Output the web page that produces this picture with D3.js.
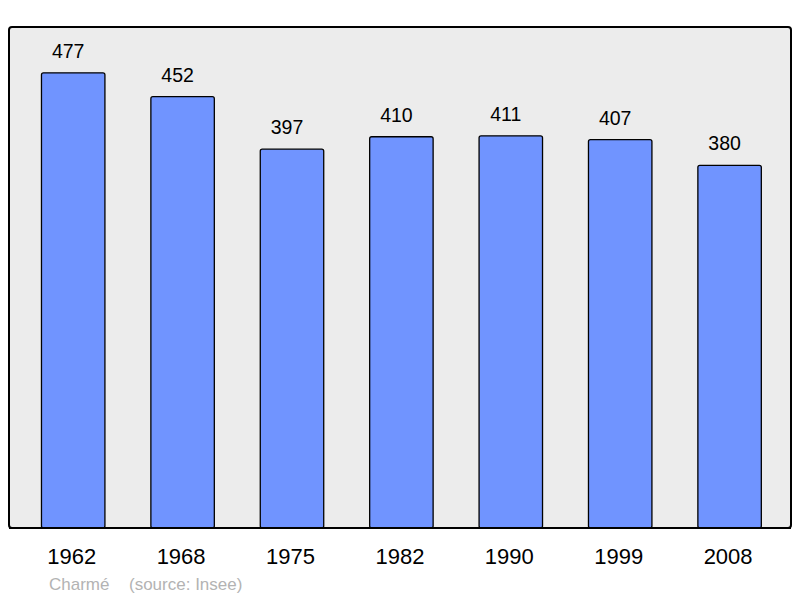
<!DOCTYPE html>
<html>
<head>
<meta charset="utf-8">
<script src="https://cdn.jsdelivr.net/npm/d3@7"></script>
<style>
  body { margin: 0; background: #fff; }
  text { font-family: "Liberation Sans", Arial, sans-serif; }
</style>
</head>
<body>
<div id="chart"></div>
<script>
// population data
const years = ["1962", "1968", "1975", "1982", "1990", "1999", "2008"];
const population = [477, 452, 397, 410, 411, 407, 380];
const commune = "Charmé";
const source = "(source: Insee)";

let width = 800;
let height = 598;
let panelLeft = 9, panelRight = 791, panelTop = 27, panelBottom = 528;

let svg = d3.select("#chart").append("svg")
  .attr("width", width)
  .attr("height", height);

let xScale = d3.scaleBand()
  .domain(years)
  .range([18.5, 784.3])
  .paddingInner(0.42)
  .paddingOuter(0.21);

let yScale = d3.scaleLinear()
  .domain([0, 525])
  .range([panelBottom, panelTop]);

//background panel
svg.append("rect")
  .attr("x", panelLeft)
  .attr("y", panelTop)
  .attr("width", panelRight - panelLeft)
  .attr("height", panelBottom - panelTop)
  .attr("rx", 3)
  .attr("fill", "#ececec")
  .attr("stroke", "#000")
  .attr("stroke-width", 2);

let data = years.map((y, i) => ({ year: y, value: population[i] }));

//bars
svg.selectAll("rect.bar")
  .data(data)
  .enter()
  .append("rect")
  .attr("class", "bar")
  .attr("x", d => xScale(d.year))
  .attr("y", d => yScale(d.value))
  .attr("width", xScale.bandwidth())
  .attr("height", d => panelBottom - yScale(d.value))
  .attr("rx", 2)
  .attr("fill", "#7094ff")
  .attr("stroke", "#000")
  .attr("stroke-width", 1.3);

//redraw bottom border over bars
svg.append("line")
  .attr("x1", panelLeft)
  .attr("x2", panelRight)
  .attr("y1", panelBottom)
  .attr("y2", panelBottom)
  .attr("stroke", "#000")
  .attr("stroke-width", 2);

//value labels
svg.selectAll("text.value")
  .data(data)
  .enter()
  .append("text")
  .attr("class", "value")
  .attr("x", d => xScale(d.year) + xScale.bandwidth() / 2 - 5)
  .attr("y", d => yScale(d.value) - 15)
  .attr("text-anchor", "middle")
  .attr("font-size", 19.5)
  .attr("fill", "#000")
  .text(d => d.value);

//year labels
let xAxis = d3.axisBottom(xScale).tickSize(0).tickPadding(0);
let axisG = svg.append("g")
  .attr("transform", `translate(-1.5,${panelBottom})`)
  .call(xAxis);
axisG.select(".domain").remove();
axisG.selectAll("text")
  .attr("dy", null)
  .attr("y", 36.3)
  .attr("font-size", 22)
  .attr("font-family", "Liberation Sans, Arial, sans-serif")
  .attr("fill", "#000");

//footer
svg.append("text")
  .attr("x", 49)
  .attr("y", 589.5)
  .attr("font-size", 17)
  .attr("fill", "#b3b3b3")
  .text(commune);

svg.append("text")
  .attr("x", 129)
  .attr("y", 589.5)
  .attr("font-size", 17)
  .attr("fill", "#b3b3b3")
  .text(source);
</script>
</body>
</html>
